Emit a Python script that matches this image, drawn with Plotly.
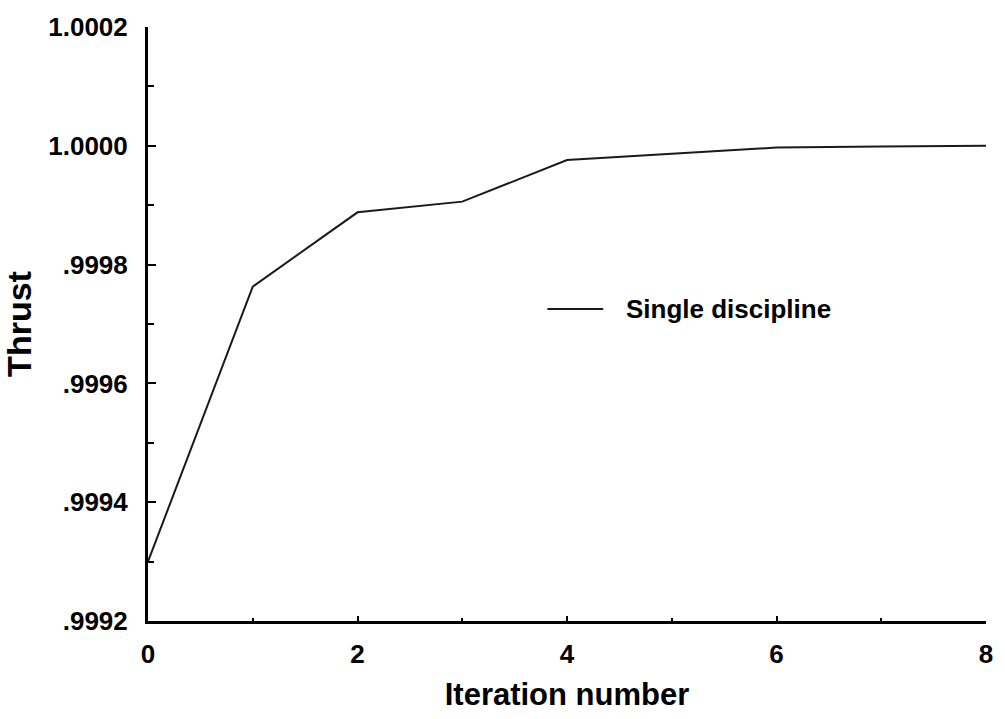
import plotly.graph_objects as go

iterations = [0, 1, 2, 3, 4, 5, 6, 7, 8]
thrust = [0.99930, 0.999763, 0.999888, 0.999906, 0.999976, 0.999986, 0.999997, 0.999999, 1.000000]
series_name = "Single discipline"

y_tickvals = [0.9992, 0.9994, 0.9996, 0.9998, 1.0000, 1.0002]
y_ticktext = [".9992", ".9994", ".9996", ".9998", "1.0000", "1.0002"]
x_tickvals = [0, 2, 4, 6, 8]
x_ticktext = ["0", "2", "4", "6", "8"]

FONT = "Liberation Sans, Arial, Helvetica, sans-serif"

fig = go.Figure()
fig.add_trace(go.Scatter(
    x=iterations, y=thrust, mode="lines", name=series_name,
    line=dict(color="#1a1a1a", width=2), showlegend=False, cliponaxis=False,
))

# manual legend (line sample + label)
fig.add_shape(type="line", xref="paper", yref="paper",
              x0=0.4766, x1=0.5432, y0=0.5251, y1=0.5251,
              line=dict(color="#1a1a1a", width=2))
fig.add_annotation(xref="paper", yref="paper", x=0.5678, y=0.5251,
                   text=series_name, showarrow=False, xanchor="left", yanchor="middle",
                   font=dict(family=FONT, size=26, color="black", weight="bold"))

fig.update_layout(
    width=1005, height=719,
    margin=dict(l=137, r=12, t=17, b=85),
    paper_bgcolor="white", plot_bgcolor="white",
    font=dict(family=FONT, color="black"),
)
fig.update_xaxes(
    range=[0, 8], showgrid=False, zeroline=False,
    showline=True, linecolor="black", linewidth=3,
    ticks="inside", ticklen=5, tickwidth=2, tickcolor="black",
    tickvals=x_tickvals, ticktext=x_ticktext,
    minor=dict(ticks="inside", ticklen=3, tickwidth=2, tickcolor="black", dtick=1, showgrid=False),
    tickfont=dict(family=FONT, size=26, color="black", weight="bold"),
    ticklabelstandoff=8, ticklabeloverflow="allow",
    title=dict(text="Iteration number", standoff=16,
               font=dict(family=FONT, size=31, color="black", weight="bold")),
)
fig.update_yaxes(
    range=[0.9992, 1.0002], showgrid=False, zeroline=False,
    showline=True, linecolor="black", linewidth=3,
    ticks="inside", ticklen=8, tickwidth=2, tickcolor="black",
    tickvals=y_tickvals, ticktext=y_ticktext,
    minor=dict(ticks="inside", ticklen=6, tickwidth=2, tickcolor="black", dtick=0.0001, showgrid=False),
    tickfont=dict(family=FONT, size=26, color="black", weight="bold"),
    ticklabelstandoff=12, ticklabeloverflow="allow",
    title=dict(text="Thrust", standoff=12,
               font=dict(family=FONT, size=34, color="black", weight="bold")),
)

fig.write_html(
    "out.html",
    config={"displayModeBar": False},
    post_script="document.body.style.margin='0';document.body.style.overflow='hidden';",
)
